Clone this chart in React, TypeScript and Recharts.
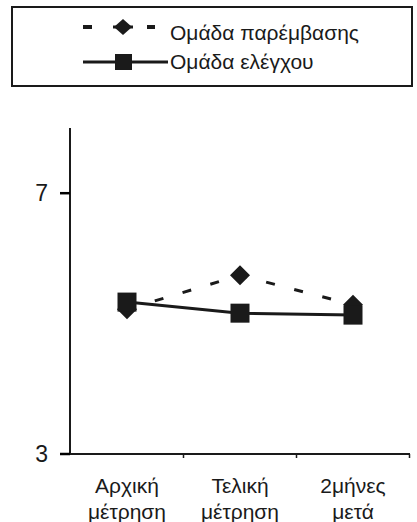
import React from "react";
import { LineChart, Line, XAxis, YAxis } from "recharts";

const categories = ["Αρχική μέτρηση", "Τελική μέτρηση", "2μήνες μετά"];
const interventionValues = [5.22, 5.74, 5.29];
const controlValues = [5.33, 5.16, 5.13];
const yTicks = [3, 7];
const seriesNames = ["Ομάδα παρέμβασης", "Ομάδα ελέγχου"];

const data = categories.map((name, i) => ({
  name,
  intervention: interventionValues[i],
  control: controlValues[i],
}));

const INK = "#1a1a1a";
const FONT = "'Liberation Sans', Arial, sans-serif";

const Diamond = (props: any) => {
  const { cx, cy, index } = props;
  if (cx == null || cy == null) return null;
  const r = 10;
  return (
    <polygon
      key={"d" + index}
      points={`${cx},${cy - r} ${cx + r},${cy} ${cx},${cy + r} ${cx - r},${cy}`}
      fill={INK}
    />
  );
};

const Square = (props: any) => {
  const { cx, cy, index } = props;
  if (cx == null || cy == null) return null;
  return (
    <rect key={"s" + index} x={cx - 9.5} y={cy - 9.5} width={19} height={19} fill={INK} />
  );
};

const CategoryTick = (props: any) => {
  const { x, y, payload } = props;
  const lines = String(payload.value).split(" ");
  const half = 56.5;
  return (
    <g>
      <line x1={x + half} x2={x + half} y1={y} y2={y + 4} stroke={INK} strokeWidth={1.5} />
      <text x={x} y={y} textAnchor="middle" fill={INK} fontSize={21} fontFamily={FONT}>
        {lines.map((l, i) => (
          <tspan key={i} x={x} dy={i === 0 ? 39 : 26}>
            {l}
          </tspan>
        ))}
      </text>
    </g>
  );
};

const ValueTick = (props: any) => {
  const { x, y, payload } = props;
  return (
    <g>
      <path d={`M60,${y}H70`} stroke="#000" strokeWidth={2.5} fill="none" />
      <text x={x} y={y} dy={8} textAnchor="end" fill={INK} fontSize={23} fontFamily={FONT}>
        {payload.value}
      </text>
    </g>
  );
};

function ChartLegend() {
  return (
    <svg
      width={417}
      height={92}
      style={{ position: "absolute", left: 0, top: 0 }}
    >
      <rect x={12} y={7} width={400} height={79} fill="none" stroke={INK} strokeWidth={2} />
      <line x1={83} x2={92} y1={27} y2={27} stroke={INK} strokeWidth={4} />
      <line x1={113} x2={133} y1={27} y2={27} stroke={INK} strokeWidth={3} />
      <polygon points="123,19 132,27 123,35 114,27" fill={INK} />
      <line x1={147} x2={155} y1={27} y2={27} stroke={INK} strokeWidth={4} />
      <text x={170} y={40} fontSize={21} fontFamily={FONT} fill={INK}>
        {seriesNames[0]}
      </text>
      <line x1={83} x2={168} y1={62} y2={62} stroke={INK} strokeWidth={3} />
      <rect x={115} y={54} width={17} height={16} fill={INK} />
      <text x={170} y={69} fontSize={21} fontFamily={FONT} fill={INK}>
        {seriesNames[1]}
      </text>
    </svg>
  );
}

export default function App() {
  return (
    <div
      style={{
        position: "absolute",
        left: 0,
        top: 0,
        width: 417,
        height: 522,
        background: "#fff",
      }}
    >
      <LineChart
        width={417}
        height={522}
        data={data}
        margin={{ top: 128, right: 7, left: 0, bottom: 0 }}
      >
        <XAxis
          dataKey="name"
          interval={0}
          height={68}
          padding={{ left: 57, right: 57 }}
          tickSize={0}
          tickMargin={0}
          axisLine={{ stroke: INK, strokeWidth: 2 }}
          tickLine={false}
          tick={<CategoryTick />}
        />
        <YAxis
          width={70}
          domain={[3, 8]}
          ticks={yTicks}
          interval={0}
          tickSize={8}
          tickMargin={14}
          axisLine={{ stroke: INK, strokeWidth: 2 }}
          tickLine={false}
          tick={<ValueTick />}
        />
        <Line
          dataKey="intervention"
          name={seriesNames[0]}
          stroke={INK}
          strokeWidth={3}
          strokeDasharray="9 20"
          dot={Diamond}
          activeDot={false}
          isAnimationActive={false}
        />
        <Line
          dataKey="control"
          name={seriesNames[1]}
          stroke={INK}
          strokeWidth={3}
          dot={Square}
          activeDot={false}
          isAnimationActive={false}
        />
      </LineChart>
      <ChartLegend />
    </div>
  );
}
